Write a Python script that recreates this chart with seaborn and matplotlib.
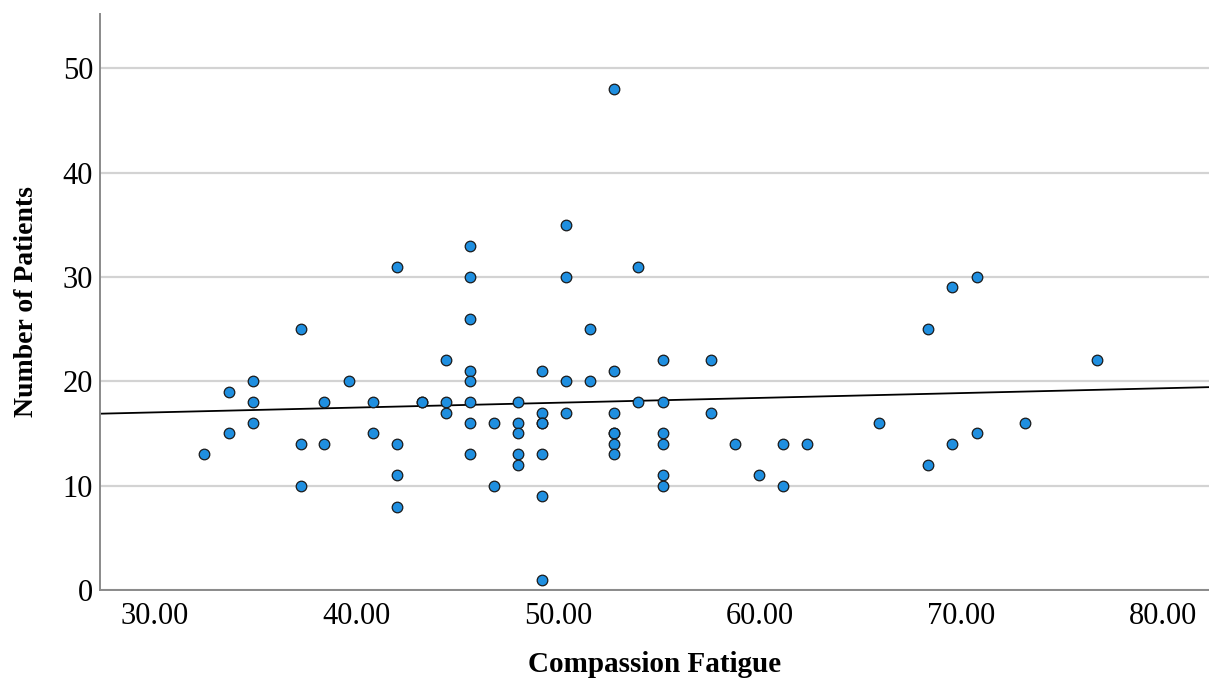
import numpy as np
import pandas as pd
import matplotlib
matplotlib.use('Agg')
import matplotlib.pyplot as plt
import seaborn as sns

# values, grouped by x column
x_cols = [32.43, 33.67, 34.86, 37.24, 38.38, 39.62, 40.81, 42.00, 43.24, 44.43,
          45.63, 46.82, 48.01, 49.20, 50.39, 51.58, 52.77, 53.96, 55.20, 57.58,
          58.77, 59.96, 61.15, 62.34, 65.91, 68.34, 69.53, 70.77, 73.15, 76.73]
y_cols = [
    [13],
    [19, 15],
    [20, 18, 16],
    [25, 14, 10],
    [18, 14],
    [20],
    [18, 15],
    [31, 14, 11, 8],
    [18, 18],
    [22, 18, 17],
    [33, 30, 26, 21, 20, 18, 16, 13],
    [16, 10],
    [18, 16, 15, 13, 12],
    [21, 17, 16, 16, 13, 9, 1],
    [35, 30, 20, 17],
    [25, 20],
    [48, 21, 17, 15, 15, 14, 13],
    [31, 18],
    [22, 18, 15, 14, 11, 10],
    [22, 17],
    [14],
    [11],
    [14, 10],
    [14],
    [16],
    [25, 12],
    [29, 14],
    [30, 15],
    [16],
    [22],
]
x_ticks = [30, 40, 50, 60, 70, 80]
y_ticks = [0, 10, 20, 30, 40, 50]

rows = [(x, y) for x, ys in zip(x_cols, y_cols) for y in ys]
df = pd.DataFrame(rows, columns=['Compassion Fatigue', 'Number of Patients'])

sns.set_theme(style='white')
plt.rcParams['font.family'] = ['Liberation Serif', 'DejaVu Serif']

fig = plt.figure(figsize=(12.09, 6.83), dpi=100)
ax = fig.add_axes([0.0827, 0.1362, 0.9173, 0.8433])
ax.set_xlim(27.27, 82.28)
ax.set_ylim(0, 55.2)

ax.yaxis.grid(True, color='#d3d3d3', linewidth=1.6)
ax.xaxis.grid(False)
ax.set_axisbelow(True)

# fit line across the full axis
sns.regplot(data=df, x='Compassion Fatigue', y='Number of Patients', ax=ax,
            scatter=False, ci=None, truncate=False,
            line_kws={'color': 'black', 'linewidth': 1.3, 'zorder': 2})

sns.scatterplot(data=df, x='Compassion Fatigue', y='Number of Patients', ax=ax,
                s=58, color='#1f8fe0', edgecolor='#1a1a1a', linewidth=0.9,
                zorder=3)

ax.set_xlim(27.27, 82.28)
ax.set_xticks(x_ticks)
ax.set_xticklabels([f'{t:.2f}' for t in x_ticks])
ax.set_yticks(y_ticks)
ax.tick_params(axis='x', length=0, pad=9, labelsize=22, colors='black')
ax.tick_params(axis='y', length=0, pad=5, labelsize=22, colors='black')

for side in ['top', 'right']:
    ax.spines[side].set_visible(False)
for side in ['left', 'bottom']:
    ax.spines[side].set_color('#8a8a8a')
    ax.spines[side].set_linewidth(1.4)

ax.set_xlabel('Compassion Fatigue', fontsize=21, fontweight='bold', labelpad=14,
              color='black')
ax.set_ylabel('Number of Patients', fontsize=20, fontweight='bold', labelpad=17,
              color='black')

fig.savefig('out.png', dpi=100)
